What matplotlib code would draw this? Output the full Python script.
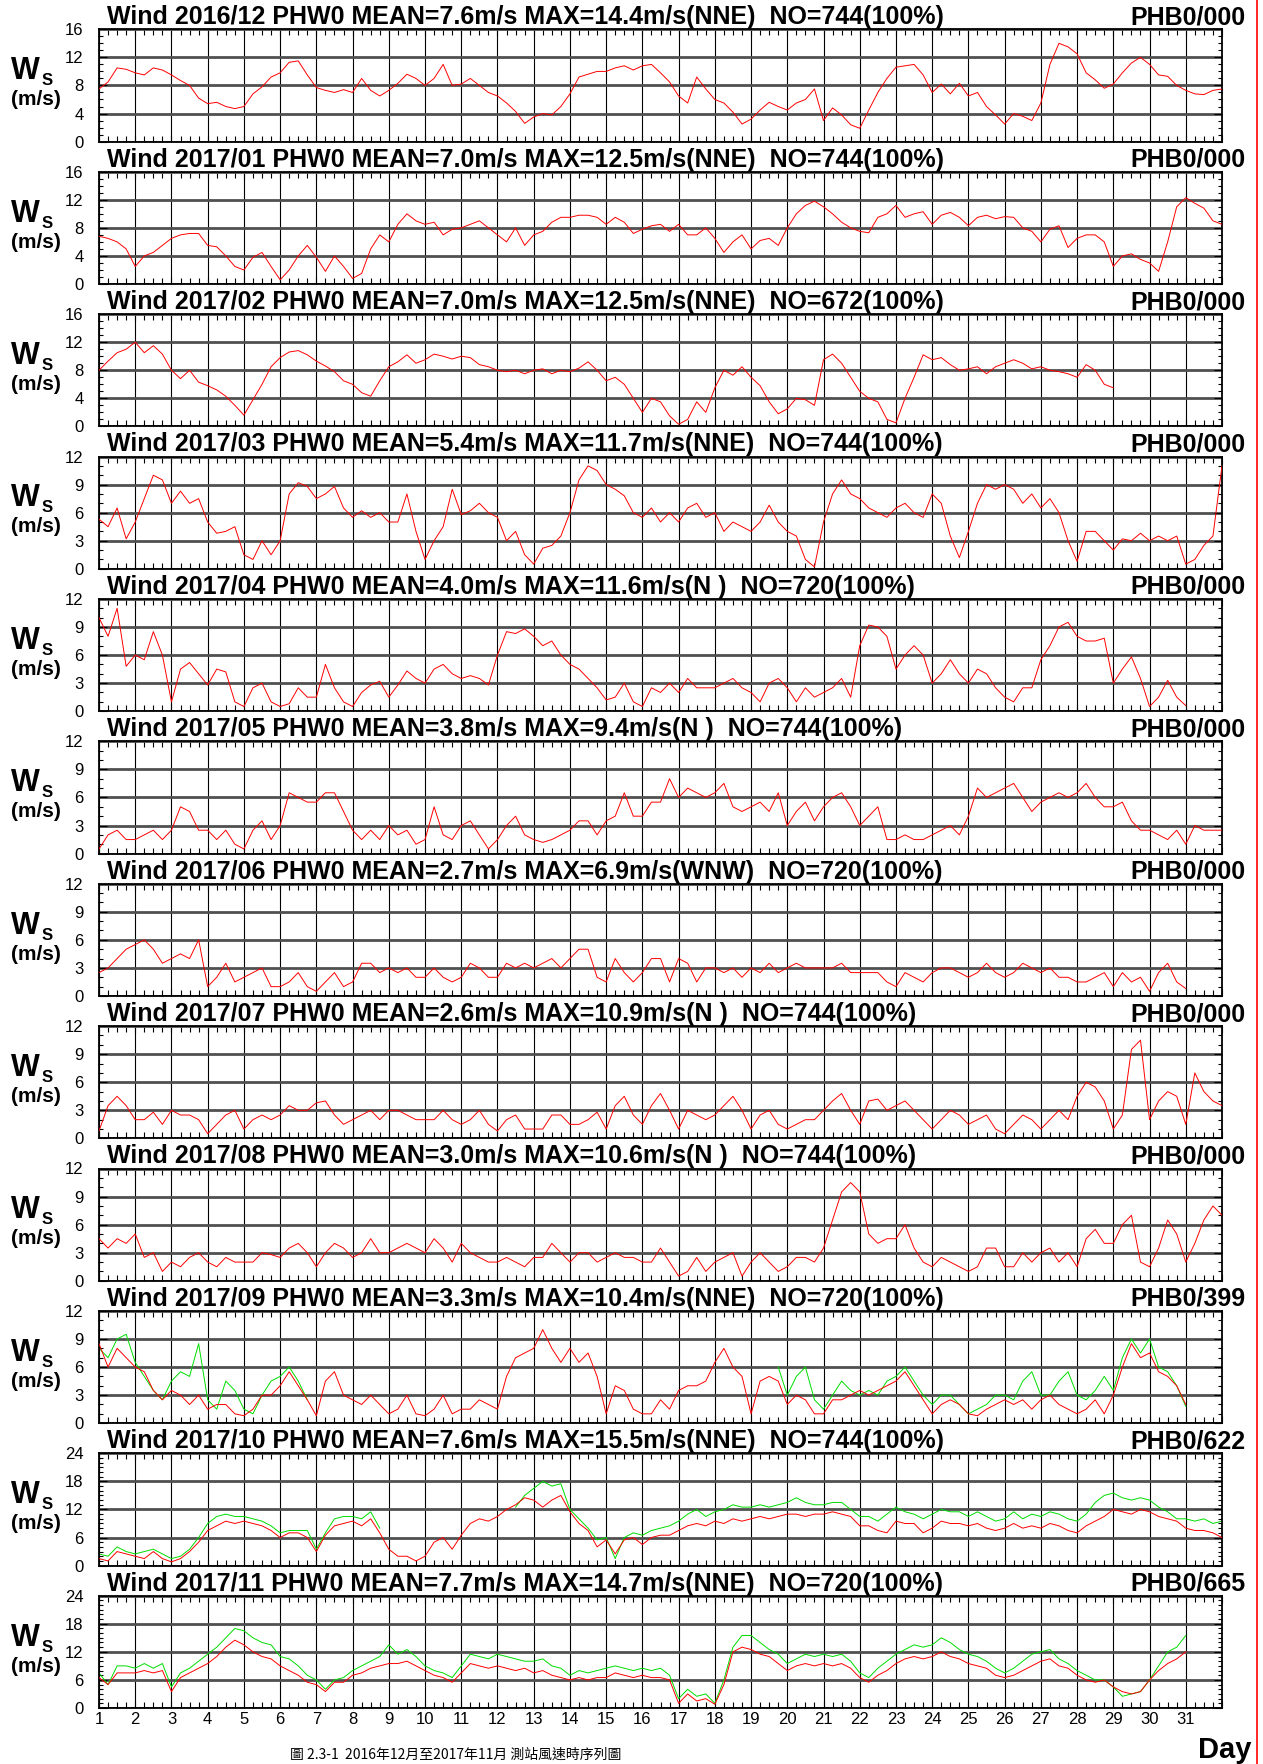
import numpy as np
import matplotlib
matplotlib.use('Agg')
import matplotlib.pyplot as plt
from matplotlib.ticker import MultipleLocator
from matplotlib.lines import Line2D

plt.rcParams['font.family'] = ['Liberation Sans', 'DejaVu Sans']

# 6-hourly readings (4 per day), last value = end of month
ws_1612 = [7.5, 8.5, 10.5, 10.3, 9.8, 9.5, 10.5, 10.2, 9.5, 8.7, 8.0, 6.2, 5.4, 5.6, 5.0, 4.7,
           5.0, 6.8, 7.8, 9.2, 9.8, 11.3, 11.5, 9.5, 7.7, 7.3, 7.0, 7.4, 7.0, 9.0, 7.3, 6.5,
           7.3, 8.3, 9.6, 9.0, 8.0, 9.0, 11.0, 8.0, 8.2, 9.0, 8.0, 7.0, 6.5, 5.5, 4.3, 2.6,
           3.5, 4.0, 3.8, 5.0, 6.8, 9.2, 9.6, 10.0, 10.0, 10.5, 10.8, 10.2, 10.8, 11.0, 9.8, 8.5,
           6.5, 5.5, 9.2, 7.5, 6.0, 5.5, 4.2, 2.5, 3.2, 4.5, 5.6, 5.0, 4.5, 5.5, 6.0, 7.5,
           3.0, 4.8, 3.8, 2.4, 1.9, 4.5, 7.0, 9.0, 10.6, 10.8, 11.0, 9.5, 7.0, 8.2, 6.8, 8.3,
           6.5, 7.0, 5.0, 3.8, 2.5, 4.0, 3.6, 3.0, 5.5, 11.0, 14.0, 13.5, 12.5, 9.8, 8.8, 7.6,
           8.2, 9.8, 11.2, 12.0, 11.0, 9.5, 9.3, 8.0, 7.3, 6.8, 6.7, 7.3, 7.5]
ws_1701 = [6.8, 6.5, 6.0, 5.0, 2.5, 4.0, 4.5, 5.5, 6.5, 7.0, 7.2, 7.2, 5.5, 5.3, 4.0, 2.5,
           2.0, 3.8, 4.5, 2.5, 0.6, 2.0, 4.0, 5.5, 3.8, 1.8, 4.0, 2.5, 0.8, 1.5, 5.0, 7.0,
           6.0, 8.5, 10.0, 9.0, 8.5, 8.8, 7.0, 7.8, 8.0, 8.5, 9.0, 8.0, 7.0, 6.0, 8.0, 5.5,
           7.0, 7.5, 8.8, 9.5, 9.5, 9.8, 9.8, 9.5, 8.5, 9.5, 8.8, 7.2, 7.8, 8.3, 8.5, 7.5,
           8.5, 7.0, 7.0, 8.0, 6.5, 4.5, 6.0, 7.0, 5.0, 6.2, 6.5, 5.5, 8.0, 10.0, 11.2, 11.8,
           11.0, 10.0, 8.8, 8.0, 7.5, 7.3, 9.5, 10.0, 11.2, 9.5, 10.0, 10.3, 8.5, 9.8, 10.2, 9.5,
           8.3, 9.5, 9.8, 9.3, 9.6, 9.5, 8.0, 7.5, 6.0, 7.8, 8.3, 5.2, 6.5, 7.0, 7.0, 6.0,
           2.5, 4.0, 4.3, 3.5, 3.0, 1.8, 6.0, 11.0, 12.3, 11.5, 10.8, 9.0, 8.5]
ws_1702 = [8.0, 9.3, 10.5, 11.0, 12.0, 10.5, 11.5, 10.3, 8.0, 6.8, 8.0, 6.3, 5.8, 5.2, 4.3, 3.0,
           1.6, 3.8, 6.0, 8.5, 9.8, 10.6, 10.8, 10.2, 9.3, 8.6, 7.8, 6.5, 6.0, 4.8, 4.3, 6.5,
           8.5, 9.2, 10.2, 9.0, 9.5, 10.3, 10.0, 9.6, 10.0, 9.8, 8.8, 8.5, 8.0, 7.8, 8.0, 7.5,
           8.0, 8.2, 7.5, 8.0, 7.8, 8.3, 9.2, 8.0, 6.5, 7.0, 6.0, 4.0, 2.0, 4.0, 3.5, 1.5,
           0.3, 1.0, 3.5, 2.0, 5.5, 8.0, 7.3, 8.5, 7.0, 5.8, 3.5, 1.8, 2.5, 4.0, 3.8, 3.0,
           9.5, 10.3, 9.0, 7.0, 5.0, 4.0, 3.5, 1.0, 0.5, 4.0, 7.0, 10.2, 9.5, 9.8, 8.8, 8.0,
           8.2, 8.5, 7.5, 8.5, 9.0, 9.5, 9.0, 8.2, 8.5, 8.0, 7.8, 7.5, 7.0, 8.8, 8.0, 6.0, 5.5]
ws_1703 = [5.3, 4.5, 6.5, 3.2, 5.0, 7.5, 10.0, 9.5, 7.0, 8.3, 7.0, 7.5, 5.0, 3.8, 4.0, 4.5,
           1.5, 1.0, 3.0, 1.5, 3.0, 8.0, 9.2, 8.8, 7.5, 8.0, 8.8, 6.5, 5.5, 6.2, 5.5, 6.0,
           5.0, 5.0, 8.0, 4.0, 1.0, 3.0, 4.5, 8.5, 5.8, 6.2, 7.0, 6.0, 5.5, 3.0, 4.0, 1.5,
           0.5, 2.2, 2.5, 3.5, 6.0, 9.5, 11.0, 10.5, 9.0, 8.5, 7.8, 6.0, 5.5, 6.5, 5.0, 6.0,
           5.0, 6.5, 7.0, 5.5, 6.0, 4.0, 5.0, 4.5, 4.0, 5.0, 6.8, 5.0, 4.0, 3.5, 1.0, 0.2,
           5.0, 8.0, 9.5, 8.0, 7.5, 6.5, 6.0, 5.5, 6.5, 7.0, 6.0, 5.5, 8.0, 7.0, 3.5, 1.2,
           4.0, 7.0, 9.0, 8.5, 9.0, 8.5, 7.0, 8.0, 6.5, 7.5, 6.0, 3.0, 0.8, 4.0, 4.0, 3.0,
           2.0, 3.2, 3.0, 3.8, 3.0, 3.5, 3.0, 3.5, 0.5, 1.0, 2.5, 3.5, 11.0]
ws_1704 = [10.0, 8.0, 11.0, 4.8, 6.0, 5.5, 8.5, 6.0, 1.0, 4.5, 5.2, 4.0, 2.8, 4.5, 4.2, 1.0,
           0.5, 2.5, 3.0, 1.0, 0.5, 0.8, 2.5, 1.5, 1.5, 5.0, 2.5, 1.0, 0.5, 2.0, 2.8, 3.2,
           1.5, 2.8, 4.3, 3.5, 3.0, 4.5, 5.0, 4.0, 3.5, 3.8, 3.5, 2.8, 6.0, 8.5, 8.3, 8.8,
           8.0, 7.0, 7.5, 6.0, 5.0, 4.5, 3.5, 2.5, 1.2, 1.5, 3.0, 1.0, 0.5, 2.5, 2.0, 3.0,
           2.0, 3.5, 2.5, 2.5, 2.5, 3.0, 3.5, 2.5, 2.0, 1.0, 3.0, 3.5, 2.5, 1.0, 2.5, 1.5,
           2.0, 2.5, 3.5, 1.5, 7.0, 9.2, 9.0, 8.0, 4.5, 6.0, 7.0, 6.0, 3.0, 4.0, 5.5, 4.0,
           3.0, 4.5, 4.0, 2.5, 1.5, 1.0, 2.5, 2.5, 5.5, 7.0, 9.0, 9.5, 8.0, 7.5, 7.5, 7.8,
           3.0, 4.5, 5.8, 3.5, 0.5, 1.5, 3.3, 1.5, 0.6]
ws_1705 = [0.5, 2.0, 2.5, 1.5, 1.5, 2.0, 2.5, 1.5, 2.5, 5.0, 4.5, 2.5, 2.5, 1.5, 2.5, 1.0,
           0.5, 2.5, 3.5, 1.5, 3.0, 6.5, 6.0, 5.5, 5.5, 6.5, 6.5, 4.5, 2.5, 1.5, 2.5, 1.5,
           3.0, 2.0, 2.5, 1.0, 1.5, 5.0, 2.0, 1.5, 3.0, 3.5, 2.0, 0.5, 1.5, 3.0, 4.0, 2.0,
           1.5, 1.2, 1.5, 2.0, 2.5, 3.5, 3.5, 2.0, 3.5, 4.0, 6.5, 4.0, 4.0, 5.5, 5.5, 8.0,
           6.0, 7.0, 6.5, 6.0, 6.5, 7.5, 5.0, 4.5, 5.0, 5.5, 4.5, 6.5, 3.0, 4.5, 5.5, 3.5,
           5.0, 6.0, 6.5, 5.0, 3.0, 4.0, 5.0, 1.5, 1.5, 2.0, 1.5, 1.5, 2.0, 2.5, 3.0, 2.0,
           4.0, 7.0, 6.0, 6.5, 7.0, 7.5, 6.0, 4.5, 5.5, 6.0, 6.5, 6.0, 6.5, 7.5, 6.0, 5.0,
           5.0, 5.5, 3.5, 2.5, 2.5, 2.0, 1.5, 2.5, 1.0, 3.0, 2.5, 2.5, 2.5]
ws_1706 = [2.5, 3.0, 4.0, 5.0, 5.5, 6.0, 5.0, 3.5, 4.0, 4.5, 4.0, 6.0, 1.0, 2.0, 3.5, 1.5,
           2.0, 2.5, 3.0, 1.0, 1.0, 1.5, 2.5, 1.0, 0.5, 1.5, 2.5, 1.0, 1.5, 3.5, 3.5, 2.5,
           3.0, 2.5, 3.0, 2.0, 2.0, 3.0, 2.0, 1.5, 2.0, 3.5, 3.0, 2.0, 2.0, 3.5, 3.0, 3.5,
           3.0, 3.5, 4.0, 3.0, 4.0, 5.0, 5.0, 2.0, 1.5, 4.0, 2.5, 1.5, 2.5, 4.0, 4.0, 1.5,
           4.0, 3.5, 1.5, 3.0, 3.0, 2.5, 3.0, 2.0, 3.0, 2.5, 3.5, 2.5, 3.0, 3.5, 3.0, 3.0,
           3.0, 3.0, 3.5, 2.5, 2.5, 2.5, 2.5, 1.5, 1.0, 2.5, 2.0, 1.5, 2.5, 3.0, 3.0, 2.5,
           2.0, 2.5, 3.5, 2.5, 2.0, 2.5, 3.5, 3.0, 2.5, 3.0, 2.0, 2.0, 1.5, 1.5, 2.0, 2.5,
           1.0, 2.5, 1.5, 2.0, 0.5, 2.5, 3.5, 1.5, 0.8]
ws_1707 = [0.8, 3.5, 4.5, 3.5, 2.0, 2.0, 2.8, 1.5, 3.0, 2.5, 2.5, 2.0, 0.5, 1.5, 2.5, 3.0,
           1.0, 2.0, 2.5, 2.0, 2.5, 3.5, 3.0, 3.0, 3.8, 4.0, 2.5, 1.5, 2.0, 2.5, 3.0, 2.0,
           3.0, 3.0, 2.5, 2.0, 2.0, 2.0, 3.0, 2.0, 1.5, 2.0, 3.0, 1.5, 0.8, 2.0, 2.5, 1.0,
           1.0, 1.0, 2.5, 2.5, 1.5, 1.5, 2.0, 2.8, 1.0, 3.5, 4.5, 2.5, 1.5, 3.5, 4.8, 3.0,
           1.0, 3.0, 2.5, 2.0, 2.5, 3.5, 4.5, 3.0, 1.0, 2.5, 3.0, 1.5, 1.0, 1.5, 2.0, 2.0,
           3.0, 4.0, 4.8, 3.0, 1.5, 4.0, 4.2, 3.0, 3.5, 4.0, 3.0, 2.0, 1.0, 2.0, 3.0, 2.5,
           1.5, 2.0, 2.5, 1.0, 0.5, 1.5, 2.5, 2.0, 1.0, 2.0, 3.0, 2.0, 4.5, 6.0, 5.5, 4.0,
           1.0, 2.5, 9.5, 10.5, 2.0, 4.0, 5.0, 4.5, 1.5, 7.0, 5.0, 4.0, 3.5]
ws_1708 = [4.5, 3.5, 4.5, 4.0, 5.0, 2.5, 3.0, 1.0, 2.0, 1.5, 2.5, 3.0, 2.0, 1.5, 2.5, 2.0,
           2.0, 2.0, 3.0, 2.8, 2.5, 3.5, 4.0, 3.0, 1.5, 3.0, 4.0, 3.5, 2.5, 3.0, 4.5, 3.0,
           3.0, 3.5, 4.0, 3.5, 3.0, 4.5, 3.5, 2.0, 4.0, 3.0, 2.5, 2.0, 2.0, 2.5, 2.0, 1.5,
           2.5, 2.5, 4.0, 3.0, 2.0, 3.0, 3.0, 2.0, 2.5, 3.0, 2.5, 2.5, 2.0, 2.0, 3.5, 2.0,
           0.5, 1.0, 2.5, 1.0, 2.0, 2.5, 3.0, 0.5, 2.0, 3.0, 2.0, 1.0, 1.5, 2.5, 2.5, 2.0,
           3.5, 6.5, 9.5, 10.5, 9.5, 5.0, 4.0, 4.5, 4.5, 6.0, 3.5, 2.0, 1.5, 2.5, 2.0, 1.5,
           1.0, 1.5, 3.5, 3.5, 1.5, 1.5, 3.0, 2.0, 3.0, 3.5, 2.0, 3.0, 1.5, 4.5, 5.5, 4.0,
           4.0, 6.0, 7.0, 2.0, 1.5, 3.5, 6.5, 5.0, 2.0, 4.0, 6.5, 8.0, 7.0]
ws_1709 = [8.5, 6.0, 8.0, 7.0, 6.0, 5.5, 3.5, 2.5, 3.5, 3.0, 2.0, 3.0, 1.5, 2.0, 2.0, 1.0,
           0.8, 1.5, 3.0, 3.0, 4.0, 5.5, 4.0, 2.5, 0.8, 4.5, 5.5, 3.0, 2.5, 2.0, 3.0, 2.0,
           1.0, 1.5, 3.0, 1.0, 0.8, 1.5, 3.0, 1.0, 1.5, 1.5, 2.5, 2.0, 1.5, 5.0, 7.0, 7.5,
           8.0, 10.0, 8.0, 6.5, 8.0, 6.5, 7.5, 5.0, 1.0, 4.0, 3.5, 1.5, 1.0, 1.0, 2.5, 1.5,
           3.5, 4.0, 4.0, 4.5, 6.5, 8.0, 6.0, 5.0, 1.0, 4.5, 5.0, 4.5, 2.0, 3.0, 2.5, 1.0,
           1.0, 2.5, 2.5, 3.0, 3.5, 3.0, 3.5, 4.0, 4.5, 5.5, 4.0, 2.5, 1.0, 2.0, 2.5, 2.0,
           1.0, 0.8, 1.5, 2.0, 2.5, 2.0, 2.5, 1.5, 2.5, 3.0, 2.0, 1.5, 1.0, 1.5, 2.5, 1.0,
           3.0, 6.0, 8.5, 7.0, 7.5, 5.5, 5.0, 4.0, 2.0]
ws_1710 = [1.5, 1.0, 3.0, 2.5, 2.0, 1.5, 3.0, 1.5, 0.8, 1.5, 3.0, 5.0, 7.5, 8.5, 9.5, 9.0,
           9.5, 9.0, 8.5, 7.5, 6.0, 7.0, 7.0, 6.0, 3.0, 6.5, 8.5, 9.0, 9.5, 8.5, 10.0, 7.0,
           3.5, 2.0, 2.0, 1.0, 2.0, 5.0, 6.0, 3.5, 6.5, 9.0, 10.0, 9.5, 10.5, 12.0, 13.0, 14.5,
           14.0, 12.5, 14.0, 15.0, 11.5, 9.0, 7.5, 4.0, 5.5, 2.5, 5.5, 6.0, 4.5, 6.0, 6.5, 6.5,
           7.5, 8.5, 9.0, 8.5, 9.5, 9.0, 10.0, 9.5, 10.0, 10.5, 10.0, 10.5, 11.0, 11.0, 10.5, 11.0,
           11.0, 11.5, 11.0, 10.5, 8.5, 8.5, 7.5, 7.0, 9.5, 9.0, 9.0, 7.0, 8.0, 9.5, 9.0, 9.0,
           8.5, 9.0, 8.0, 7.5, 8.0, 9.0, 8.0, 8.5, 8.0, 9.0, 8.5, 7.5, 7.0, 8.5, 9.5, 10.5,
           12.0, 11.5, 11.0, 12.0, 11.5, 10.5, 10.0, 9.5, 8.0, 7.5, 7.5, 7.0, 6.0]
ws_1711 = [6.5, 5.0, 7.5, 7.5, 7.5, 8.0, 7.5, 8.0, 3.5, 6.5, 7.5, 8.5, 9.5, 11.0, 13.0, 14.5,
           13.5, 12.0, 11.0, 10.5, 9.0, 8.0, 7.0, 5.5, 5.0, 3.5, 5.5, 5.5, 7.0, 7.5, 8.5, 9.0,
           9.5, 9.5, 10.0, 9.0, 8.0, 7.0, 6.5, 5.5, 7.5, 9.5, 9.0, 8.5, 9.0, 8.5, 8.0, 8.5,
           7.5, 8.0, 7.0, 6.5, 6.0, 6.5, 6.0, 6.5, 6.5, 7.5, 7.0, 6.5, 7.0, 6.5, 6.5, 6.0,
           1.0, 3.0, 1.5, 2.0, 0.8, 5.0, 12.0, 13.0, 12.5, 11.5, 11.0, 9.5, 8.0, 9.0, 9.5, 9.0,
           9.5, 9.0, 9.5, 8.5, 6.5, 5.5, 7.0, 8.0, 9.5, 10.5, 11.0, 10.5, 11.0, 12.0, 11.0, 10.5,
           9.5, 9.0, 8.5, 7.0, 6.5, 7.0, 8.0, 9.0, 10.0, 10.5, 9.0, 8.5, 7.0, 6.0, 5.5, 6.0,
           4.5, 3.5, 3.0, 3.5, 6.0, 8.0, 9.5, 10.5, 12.0]

# second (green) series, None = no data
gs_1709 = [8.0, 7.0, 9.0, 9.5, 6.5, 5.0, 3.5, 2.5, 4.5, 5.5, 5.0, 8.5, 2.5, 1.5, 4.5, 3.5,
           1.5, 1.0, 3.0, 4.5, 5.0, 6.0, 4.5, 2.5] + [None] * 51 + [
           6.0, 3.0, 5.0, 6.0, 2.5, 1.5, 3.0, 4.5, 3.5, 3.0, 3.5, 3.0, 4.5,
           5.0, 6.0, 4.5, 3.0, 2.0, 3.0, 3.0, 2.0, 1.0, 1.5, 2.0, 3.0, 3.0, 2.5, 4.5, 5.5,
           3.0, 3.0, 4.5, 5.5, 3.0, 2.5, 3.5, 5.0, 3.5, 7.0, 9.0, 7.5, 9.0, 6.0, 5.5, 4.0, 1.8]
gs_1710 = [2.5, 2.0, 4.0, 3.0, 2.5, 3.0, 3.5, 2.5, 1.5, 2.0, 3.5, 6.0, 9.0, 10.5, 11.0, 10.5,
           10.5, 10.0, 9.5, 8.5, 7.0, 7.5, 7.5, 7.5, 3.5, 7.0, 10.0, 10.5, 10.5, 10.0, 11.5, 8.0] + [None] * 14 + [
           12.5, 15.0, 16.5, 18.0, 17.0, 17.5, 12.0, 10.0, 8.0, 5.5, 6.0, 1.5, 6.0, 7.0,
           6.5, 7.5, 8.0, 8.5, 9.5, 11.0, 12.0, 10.5, 11.5, 12.0, 13.0, 12.5, 12.5, 13.0, 12.5, 13.0,
           13.5, 14.5, 13.5, 13.0, 13.0, 13.5, 13.5, 12.0, 10.5, 10.5, 9.5, 11.0, 12.5, 11.5, 11.0, 10.0,
           11.0, 12.0, 11.5, 11.5, 10.5, 11.5, 10.5, 9.5, 10.0, 11.5, 10.0, 11.0, 10.5, 11.5, 11.0, 10.0,
           9.5, 11.0, 13.5, 15.0, 15.5, 14.5, 14.0, 14.5, 14.0, 12.5, 11.5, 10.0, 10.0, 9.5, 10.0, 9.0, 9.5]
gs_1711 = [7.5, 5.0, 9.0, 9.0, 8.5, 9.5, 8.5, 9.5, 4.5, 7.5, 8.5, 10.0, 11.5, 13.0, 15.0, 17.0,
           16.5, 15.0, 14.0, 13.5, 11.0, 10.5, 9.0, 7.0, 6.0, 4.0, 6.0, 6.5, 8.0, 9.0, 10.0, 11.0,
           13.5, 11.5, 12.5, 11.0, 9.0, 8.0, 7.5, 6.5, 9.0, 11.5, 11.0, 10.5, 11.5, 11.0, 10.5, 10.0,
           10.0, 10.5, 9.0, 8.5, 7.0, 8.0, 7.5, 8.0, 8.5, 9.0, 8.5, 8.0, 8.5, 8.0, 8.5, 7.0,
           2.0, 4.0, 2.5, 3.0, 1.0, 6.0, 13.0, 15.5, 15.5, 14.0, 12.5, 11.5, 9.5, 10.5, 11.5, 11.0,
           11.5, 11.0, 11.5, 10.0, 7.5, 6.5, 8.5, 10.0, 11.5, 12.5, 13.5, 13.0, 13.5, 15.0, 14.0, 12.5,
           11.5, 11.0, 10.0, 8.5, 7.5, 8.5, 10.0, 11.5, 12.0, 12.5, 10.5, 9.5, 8.0, 7.0, 6.0, 6.0,
           4.5, 2.5, 3.0, 3.5, 6.0, 9.0, 12.0, 13.0, 15.5]

months = ['2016/12', '2017/01', '2017/02', '2017/03', '2017/04', '2017/05',
          '2017/06', '2017/07', '2017/08', '2017/09', '2017/10', '2017/11']
means = [7.6, 7.0, 7.0, 5.4, 4.0, 3.8, 2.7, 2.6, 3.0, 3.3, 7.6, 7.7]
maxes = [14.4, 12.5, 12.5, 11.7, 11.6, 9.4, 6.9, 10.9, 10.6, 10.4, 15.5, 14.7]
max_dirs = ['NNE', 'NNE', 'NNE', 'NNE', 'N ', 'N ', 'WNW', 'N ', 'N ', 'NNE', 'NNE', 'NNE']
counts = [744, 744, 672, 744, 720, 744, 720, 744, 744, 720, 744, 720]
ref_tags = ['PHB0/000'] * 9 + ['PHB0/399', 'PHB0/622', 'PHB0/665']
y_tops = [16, 16, 16, 12, 12, 12, 12, 12, 12, 12, 24, 24]
day_labels = [str(d) for d in range(1, 32)]

red_series = [ws_1612, ws_1701, ws_1702, ws_1703, ws_1704, ws_1705,
              ws_1706, ws_1707, ws_1708, ws_1709, ws_1710, ws_1711]
green_series = [None] * 9 + [gs_1709, gs_1710, gs_1711]

W, H = 1263, 1764
fig = plt.figure(figsize=(W / 100, H / 100), dpi=100)

def fy(y):
    return 1 - y / H

narrow = ['Liberation Sans Narrow', 'Liberation Sans', 'DejaVu Sans']

for i in range(12):
    top = 29.3 + 142.4 * i
    ax = fig.add_axes([99 / W, fy(top + 112.3), 1123 / W, 112.3 / H])

    red = np.array(red_series[i], dtype=float)
    x = 1 + np.arange(len(red)) / 4
    ax.plot(x, red, color='red', lw=0.7, zorder=3)
    if green_series[i] is not None:
        grn = np.array([np.nan if v is None else v for v in green_series[i]], dtype=float)
        xg = 1 + np.arange(len(grn)) / 4
        ax.plot(xg, grn, color='#00dd00', lw=0.7, zorder=2)

    ax.set_xlim(1, 32)
    ax.set_ylim(0, y_tops[i])
    ax.set_xticks(range(1, 33))
    ax.xaxis.set_minor_locator(MultipleLocator(0.25))
    ax.yaxis.set_major_locator(MultipleLocator(y_tops[i] / 4))
    ax.yaxis.set_minor_locator(MultipleLocator(1))
    ax.tick_params(which='both', direction='in', top=True, right=True, width=0.8)
    ax.tick_params(axis='x', which='major', length=5)
    ax.tick_params(axis='x', which='minor', length=4)
    ax.tick_params(axis='y', which='major', length=6, pad=11, labelsize=12)
    ax.tick_params(axis='y', which='minor', length=3)
    for lab in ax.get_yticklabels():
        lab.set_family(narrow)
    ax.grid(axis='y', which='major', color='#505050', lw=2.0)
    ax.grid(axis='x', which='major', color='black', lw=0.8)
    ax.set_axisbelow(True)
    for s in ax.spines.values():
        s.set_linewidth(1.3)

    if i == 11:
        ax.set_xticklabels(day_labels + [''], family=narrow, fontsize=12)
        ax.tick_params(axis='x', pad=3)
    else:
        ax.tick_params(labelbottom=False)

    title = (f"Wind {months[i]} PHW0 MEAN={means[i]:.1f}m/s "
             f"MAX={maxes[i]:.1f}m/s({max_dirs[i]})  NO={counts[i]}(100%)")
    fig.text(107 / W, fy(top - 5), title, fontsize=18, fontweight='bold', va='baseline')
    fig.text(1245 / W, fy(top - 5), ref_tags[i], fontsize=18, fontweight='bold',
             va='baseline', ha='right')

    fig.text(11 / W, fy(top + 50), 'W', fontsize=22, fontweight='bold', va='baseline')
    fig.text(42 / W, fy(top + 56), 'S', fontsize=12, fontweight='bold', va='baseline')
    fig.text(11 / W, fy(top + 76), '(m/s)', fontsize=15, fontweight='bold', va='baseline')

fig.add_artist(Line2D([1257 / W, 1257 / W], [0, 1], color='red', lw=1.2))
fig.text(1251 / W, fy(1758), 'Day', fontsize=21, fontweight='bold', ha='right', va='baseline')
fig.text(290 / W, fy(1762), '圖 2.3-1  2016年12月至2017年11月 測站風速時序列圖',
         fontsize=10, va='bottom', family=['Noto Sans CJK TC', 'DejaVu Sans'])

fig.savefig('out.png', dpi=100)
